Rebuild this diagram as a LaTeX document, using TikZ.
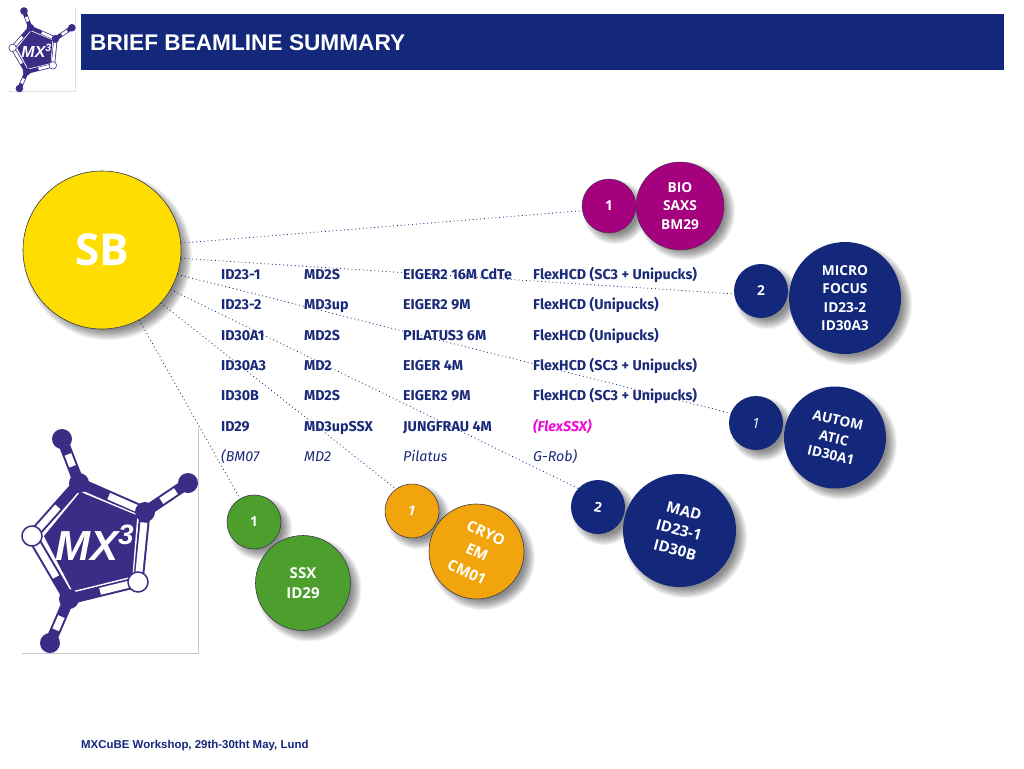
\documentclass[tikz,border=0pt]{standalone}
\usepackage{fontspec}
\setmainfont{Fira Sans}
\newfontfamily\circfont{Open Sans}
\newfontfamily\arialfont{Liberation Sans}
\usetikzlibrary{calc}
\definecolor{navy}{HTML}{13277B}
\definecolor{tabtext}{HTML}{1A2A78}
\definecolor{logopurple}{HTML}{3D2C86}
\definecolor{biomag}{HTML}{A5007D}
\definecolor{sbyellow}{HTML}{FFDD00}
\definecolor{ssxgreen}{HTML}{4C9F2D}
\definecolor{cryoorange}{HTML}{F2A40C}
\definecolor{outlinegrey}{HTML}{3A3A4A}
\definecolor{boxgrey}{HTML}{C8C8C8}
\definecolor{boxpale}{HTML}{E2E2E2}
\definecolor{flexmag}{HTML}{F00AD8}
\newcommand{\softshadow}[3]{%
  \foreach \k in {0,...,9}{%
    \fill[black,opacity=.055] ($(#1,#2)+(6,6)$) circle[radius=#3+5-\k*1.1];}%
}
\newcommand{\mxbond}[5]{% a, b, t1, t2, factor
  \draw[logopurple,line width=#5*11pt] #1 -- #2;
  \draw[white,line width=#5*7pt] ($#1!#3!#2$) -- ($#1!#4!#2$);
}
\newcommand{\mxlogo}[2]{% name prefix, factor
  \mxbond{(62,439)}{(79,483)}{.35}{.62}{#2}
  \mxbond{(188,483)}{(145,512)}{.28}{.62}{#2}
  \mxbond{(50,643)}{(69,599)}{.3}{.6}{#2}
  \mxbond{(79,483)}{(145,512)}{.45}{.9}{#2}
  \mxbond{(145,512)}{(138,582)}{.15}{.9}{#2}
  \mxbond{(138,582)}{(69,599)}{.1}{.55}{#2}
  \mxbond{(69,599)}{(32,536)}{.35}{.9}{#2}
  \mxbond{(32,536)}{(79,483)}{.1}{.55}{#2}
  \draw[fill=logopurple,draw=white,line width=#2*1.3pt,line join=miter]
    (80,491) -- (138,515) -- (133,577) -- (72,592) -- (43,536) -- cycle;
  \fill[logopurple] (62,439) circle[radius=10];
  \fill[logopurple] (188,483) circle[radius=10];
  \fill[logopurple] (50,643) circle[radius=10];
  \fill[logopurple] (79,483) circle[radius=10];
  \fill[logopurple] (145,512) circle[radius=10];
  \fill[logopurple] (69,599) circle[radius=10];
  \draw[fill=white,draw=logopurple,line width=#2*1.5pt] (138,582) circle[radius=10];
  \draw[fill=white,draw=logopurple,line width=#2*1.5pt] (32,536) circle[radius=10];
  \node[text=white,font=\arialfont\bfseries\itshape\fontsize{42}{42}\selectfont,inner sep=0pt] (#1mx) at (87,546) {MX};
  \node[text=white,font=\arialfont\bfseries\itshape\fontsize{28}{28}\selectfont,inner sep=0pt] (#1three) at (126,535) {3};
}
\tikzset{
  ball/.style={circle,inner sep=0pt,align=center,text=white,
    font=\circfont\bfseries\fontsize{13.7}{18.5}\selectfont},
  tilt/.style={inner sep=0pt,text=white,font=\circfont\bfseries\fontsize{#1}{#1}\selectfont},
  tb/.style={text=tabtext,anchor=base west,inner sep=0pt,font=\bfseries\fontsize{14.3}{16}\selectfont},
  ti/.style={text=tabtext,anchor=base west,inner sep=0pt,font=\itshape\fontsize{14.3}{16}\selectfont},
  tm/.style={text=flexmag,anchor=base west,inner sep=0pt,font=\bfseries\itshape\fontsize{14.3}{16}\selectfont},
  link/.style={navy,line width=.8pt,dash pattern=on .9pt off 2.9pt},
  logobox/.style={boxgrey,line width=.6pt}
}
\begin{document}
\begin{tikzpicture}[x=1pt,y=-1pt]
\useasboundingbox (0,0) rectangle (1024,768);
\fill[white] (0,0) rectangle (1024,768);
% header
\fill[navy] (81,14) rectangle (1004,70);
\node[anchor=west,inner sep=0pt,text=white,font=\arialfont\bfseries\fontsize{22.65}{24}\selectfont] (title) at (90,42.5) {BRIEF BEAMLINE SUMMARY};
\node[anchor=west,inner sep=0pt,text=navy,font=\arialfont\bfseries\fontsize{11.45}{13}\selectfont] (footer) at (81,745.5) {MXCuBE Workshop, 29th-30tht May, Lund};
% logo boxes
\draw[logobox,boxpale] (8,91) -- (75,91) -- (75,8);
\draw[logobox] (22,653) -- (198,653) -- (198,428);
% big logo
\mxlogo{big}{1}
\begin{scope}[shift={(0.4,-155.8)},scale=.38,transform shape]
\mxlogo{small}{.38}
\end{scope}
% shadows
\softshadow{102}{250}{79}
\softshadow{680}{205}{44}
\softshadow{609}{206}{27}
\softshadow{845}{298}{56}
\softshadow{761}{291}{27}
\softshadow{835}{437.5}{51}
\softshadow{756}{423}{27}
\softshadow{679.5}{530.5}{56.5}
\softshadow{598}{507}{27}
\softshadow{476.5}{551.5}{47.5}
\softshadow{412}{511}{27}
\softshadow{303}{583}{47.5}
\softshadow{254}{522}{27}
% balls
\node[ball,fill=sbyellow,draw=outlinegrey,line width=.6pt,minimum size=158pt,font=\circfont\bfseries\fontsize{44}{48}\selectfont] (sb) at (102,250) {SB};
\node[ball,fill=biomag,draw=outlinegrey,line width=.4pt,minimum size=88pt] (bio) at (680,206) {BIO\\SAXS\\BM29};
\node[ball,fill=biomag,draw=outlinegrey,line width=.4pt,minimum size=54pt] (bion) at (609,206) {1};
\node[ball,fill=navy,minimum size=112pt] (micro) at (845,298) {MICRO\\FOCUS\\ID23-2\\ID30A3};
\node[ball,fill=navy,minimum size=54pt] (micron) at (761,291) {2};
\node[ball,fill=navy,minimum size=102pt] (auto) at (835,437.5) {};
\node[tilt=13.7,rotate=-13] (autoa) at (838,420) {AUTOM};
\node[tilt=13.7,rotate=-13] (autob) at (834,438) {ATIC};
\node[tilt=13.7,rotate=-13] (autoc) at (831,455) {ID30A1};
\node[ball,fill=navy,minimum size=54pt,font=\circfont\itshape\fontsize{14}{18}\selectfont] (auton) at (756,423) {1};
\node[ball,fill=navy,minimum size=113pt] (mad) at (679.5,530.5) {};
\node[tilt=15,rotate=-15] (mada) at (684,511) {MAD};
\node[tilt=15,rotate=-15] (madb) at (679,530) {ID23-1};
\node[tilt=15,rotate=-15] (madc) at (675,550) {ID30B};
\node[ball,fill=navy,minimum size=54pt,rotate=-10] (madn) at (598,507) {2};
\node[ball,fill=cryoorange,draw=outlinegrey,line width=.6pt,minimum size=95pt] (cryo) at (476.5,551.5) {};
\node[tilt=15,rotate=-25] (cryoa) at (486,533) {CRYO};
\node[tilt=15,rotate=-25] (cryob) at (477,552) {EM};
\node[tilt=15,rotate=-25] (cryoc) at (467,572) {CM01};
\node[ball,fill=cryoorange,draw=outlinegrey,line width=.6pt,minimum size=54pt,rotate=-15] (cryon) at (412,511) {1};
\node[ball,fill=ssxgreen,draw=outlinegrey,line width=.6pt,minimum size=95pt,font=\circfont\bfseries\fontsize{15}{20}\selectfont] (ssx) at (303,583) {SSX\\ID29};
\node[ball,fill=ssxgreen,draw=outlinegrey,line width=.6pt,minimum size=54pt] (ssxn) at (254,522) {1};
% connectors
\draw[link] (sb.5) -- (bion.190);
\draw[link] (sb.-6) -- (micron.186);
\draw[link] (sb.-18) -- (auton.159);
\draw[link] (sb.-30) -- (madn.147);
\draw[link] (sb.-42.5) -- (cryon.141);
\draw[link] (sb.-62) -- (ssxn.121);
% table
\node[tb] (a1) at (221,279.5) {ID23-1};
\node[tb] (b1) at (304,279.5) {MD2S};
\node[tb] (c1) at (403,279.5) {EIGER2 16M CdTe};
\node[tb] (d1) at (533,279.5) {FlexHCD (SC3 + Unipucks)};
\node[tb] (a2) at (221,309.7) {ID23-2};
\node[tb] (b2) at (304,309.7) {MD3up};
\node[tb] (c2) at (403,309.7) {EIGER2 9M};
\node[tb] (d2) at (533,309.7) {FlexHCD (Unipucks)};
\node[tb] (a3) at (221,340) {ID30A1};
\node[tb] (b3) at (304,340) {MD2S};
\node[tb] (c3) at (403,340) {PILATUS3 6M};
\node[tb] (d3) at (533,340) {FlexHCD (Unipucks)};
\node[tb] (a4) at (221,370.3) {ID30A3};
\node[tb] (b4) at (304,370.3) {MD2};
\node[tb] (c4) at (403,370.3) {EIGER 4M};
\node[tb] (d4) at (533,370.3) {FlexHCD (SC3 + Unipucks)};
\node[tb] (a5) at (221,400.6) {ID30B};
\node[tb] (b5) at (304,400.6) {MD2S};
\node[tb] (c5) at (403,400.6) {EIGER2 9M};
\node[tb] (d5) at (533,400.6) {FlexHCD (SC3 + Unipucks)};
\node[tb] (a6) at (221,431) {ID29};
\node[tb] (b6) at (304,431) {MD3upSSX};
\node[tb] (c6) at (403,431) {JUNGFRAU 4M};
\node[tm] (d6) at (533,431) {(FlexSSX)};
\node[ti] (a7) at (221,461.3) {(BM07};
\node[ti] (b7) at (304,461.3) {MD2};
\node[ti] (c7) at (403,461.3) {Pilatus};
\node[ti] (d7) at (533,461.3) {G-Rob)};
\end{tikzpicture}
\end{document}
